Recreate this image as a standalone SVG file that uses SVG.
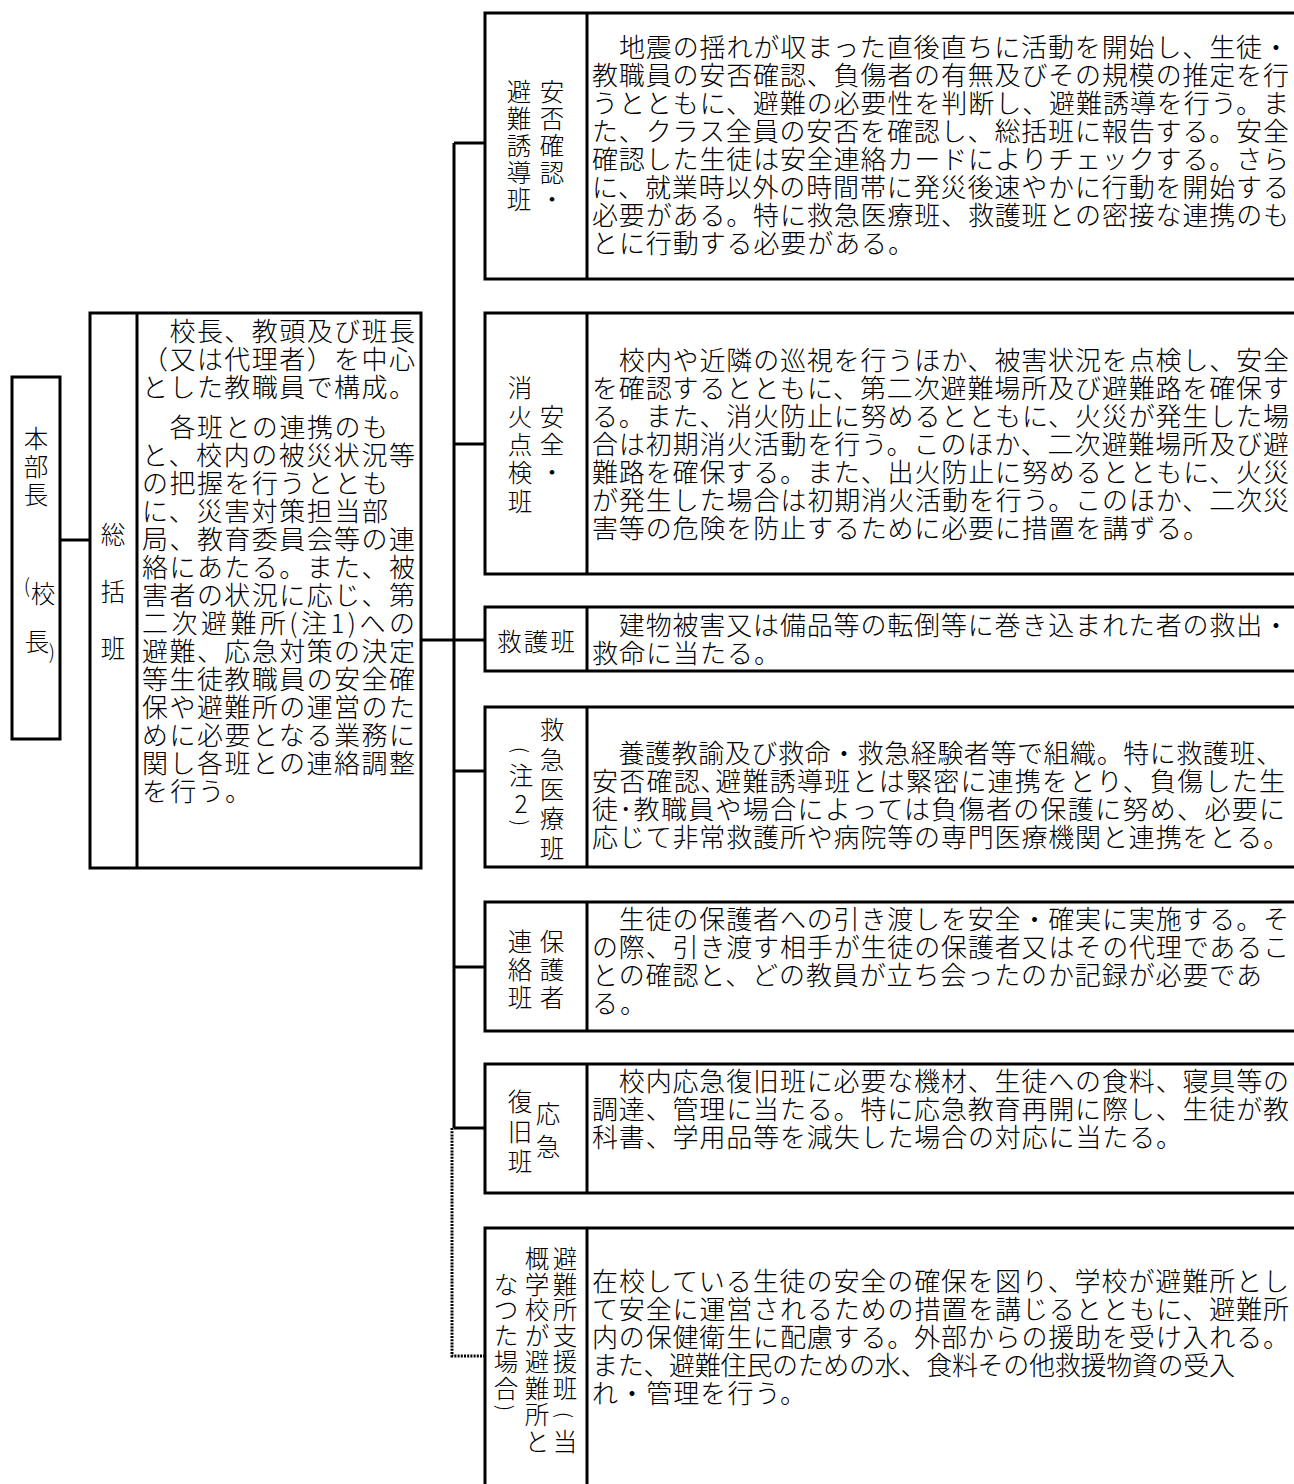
<svg xmlns="http://www.w3.org/2000/svg" width="1294" height="1484" viewBox="0 0 1294 1484">
<style>
.b{fill:#fff;stroke:#000;stroke-width:3}
.d{stroke:#000;stroke-width:3;fill:none}
.c{stroke:#000;stroke-width:3;fill:none}
.dot{stroke:#000;stroke-width:3;fill:none;stroke-dasharray:2 1.2}
text{font-family:"Noto Sans CJK JP","Noto Sans CJK SC",sans-serif;fill:#000;dominant-baseline:central;font-weight:300}
.t{font-size:26px}
.l{font-size:24.5px;text-anchor:middle}
.p{font-size:20px;text-anchor:middle}
</style>
<rect width="1294" height="1484" fill="#fff"/>
<g id="connectors">
<line class="c" x1="60" y1="540" x2="90" y2="540"/>
<line class="c" x1="421" y1="640" x2="454" y2="640"/>
<line class="c" x1="454" y1="143" x2="454" y2="1128"/>
<line class="c" x1="454" y1="143" x2="485" y2="143"/>
<line class="c" x1="454" y1="444" x2="485" y2="444"/>
<line class="c" x1="454" y1="640" x2="485" y2="640"/>
<line class="c" x1="454" y1="771" x2="485" y2="771"/>
<line class="c" x1="454" y1="967" x2="485" y2="967"/>
<line class="c" x1="454" y1="1128" x2="485" y2="1128"/>
<polyline class="dot" points="452,1128 452,1356 485,1356"/>
</g>
<g id="honbucho">
<rect class="b" x="12" y="377" width="48" height="362"/>
<text class="l" x="36" y="437">本</text>
<text class="l" x="36" y="465">部</text>
<text class="l" x="36" y="493">長</text>
<text class="p" x="27" y="584">(</text>
<text class="l" x="43" y="592">校</text>
<text class="l" x="37" y="640">長</text>
<text class="p" x="52" y="650">)</text>
</g>
<g id="sokatsu">
<rect class="b" x="90" y="313" width="331" height="555"/>
<line class="d" x1="137" y1="313" x2="137" y2="868"/>
<text class="l" x="113" y="533">総</text>
<text class="l" x="113" y="590">括</text>
<text class="l" x="113" y="647">班</text>
<g class="t">
<text x="142" y="329" textLength="273">　校長、教頭及び班長</text>
<text x="142" y="357" textLength="273">（又は代理者）を中心</text>
<text x="142" y="385" textLength="273">とした教職員で構成。</text>
<text x="142" y="425" textLength="246">　各班との連携のも</text>
<text x="142" y="453" textLength="273">と、校内の被災状況等</text>
<text x="142" y="481" textLength="246">の把握を行うととも</text>
<text x="142" y="509" textLength="246">に、災害対策担当部</text>
<text x="142" y="537" textLength="273">局、教育委員会等の連</text>
<text x="142" y="565" textLength="273">絡にあたる。また、被</text>
<text x="142" y="593" textLength="273">害者の状況に応じ、第</text>
<text x="142" y="621" textLength="273">二次避難所(注1)への</text>
<text x="142" y="649" textLength="273">避難、応急対策の決定</text>
<text x="142" y="677" textLength="273">等生徒教職員の安全確</text>
<text x="142" y="705" textLength="273">保や避難所の運営のた</text>
<text x="142" y="733" textLength="273">めに必要となる業務に</text>
<text x="142" y="761" textLength="273">関し各班との連絡調整</text>
<text x="142" y="789" textLength="109">を行う。</text>
</g>
</g>
<g id="anpi">
<rect class="b" x="485" y="13" width="820" height="266"/>
<line class="d" x1="587" y1="13" x2="587" y2="279"/>
<text class="l" x="552" y="90">安</text><text class="l" x="552" y="117">否</text><text class="l" x="552" y="144">確</text><text class="l" x="552" y="171">認</text><text class="l" x="552" y="198">・</text>
<text class="l" x="519" y="90">避</text><text class="l" x="519" y="117">難</text><text class="l" x="519" y="144">誘</text><text class="l" x="519" y="171">導</text><text class="l" x="519" y="198">班</text>
<g class="t">
<text x="592" y="45" textLength="697">　地震の揺れが収まった直後直ちに活動を開始し、生徒・</text>
<text x="592" y="73" textLength="697">教職員の安否確認、負傷者の有無及びその規模の推定を行</text>
<text x="592" y="101" textLength="697">うとともに、避難の必要性を判断し、避難誘導を行う。ま</text>
<text x="592" y="129" textLength="697">た、クラス全員の安否を確認し、総括班に報告する。安全</text>
<text x="592" y="157" textLength="697">確認した生徒は安全連絡カードによりチェックする。さら</text>
<text x="592" y="185" textLength="697">に、就業時以外の時間帯に発災後速やかに行動を開始する</text>
<text x="592" y="213" textLength="697">必要がある。特に救急医療班、救護班との密接な連携のも</text>
<text x="592" y="241" textLength="322">とに行動する必要がある。</text>
</g>
</g>
<g id="shoka">
<rect class="b" x="485" y="313" width="820" height="261"/>
<line class="d" x1="587" y1="313" x2="587" y2="574"/>
<text class="l" x="520" y="386">消</text><text class="l" x="520" y="415">火</text><text class="l" x="520" y="443">点</text><text class="l" x="520" y="471">検</text><text class="l" x="520" y="500">班</text>
<text class="l" x="552" y="415">安</text><text class="l" x="552" y="443">全</text><text class="l" x="552" y="471">・</text>
<g class="t">
<text x="592" y="358" textLength="697">　校内や近隣の巡視を行うほか、被害状況を点検し、安全</text>
<text x="592" y="386" textLength="697">を確認するとともに、第二次避難場所及び避難路を確保す</text>
<text x="592" y="414" textLength="697">る。また、消火防止に努めるとともに、火災が発生した場</text>
<text x="592" y="442" textLength="697">合は初期消火活動を行う。このほか、二次避難場所及び避</text>
<text x="592" y="470" textLength="697">難路を確保する。また、出火防止に努めるとともに、火災</text>
<text x="592" y="498" textLength="697">が発生した場合は初期消火活動を行う。このほか、二次災</text>
<text x="592" y="526" textLength="617">害等の危険を防止するために必要に措置を講ずる。</text>
</g>
</g>
<g id="kyugo">
<rect class="b" x="485" y="607" width="820" height="64"/>
<line class="d" x1="587" y1="607" x2="587" y2="671"/>
<text class="l" x="536" y="640" textLength="78">救護班</text>
<g class="t">
<text x="592" y="623" textLength="697">　建物被害又は備品等の転倒等に巻き込まれた者の救出・</text>
<text x="592" y="651" textLength="188">救命に当たる。</text>
</g>
</g>
<g id="kyukyu">
<rect class="b" x="485" y="707" width="820" height="160"/>
<line class="d" x1="587" y1="707" x2="587" y2="867"/>
<text class="l" x="552" y="728">救</text><text class="l" x="552" y="758">急</text><text class="l" x="552" y="788">医</text><text class="l" x="552" y="817">療</text><text class="l" x="552" y="847">班</text>
<text class="p" x="521" y="750" transform="rotate(90 521 750)">(</text>
<text class="l" x="521" y="774">注</text>
<text class="l" x="521" y="802">2</text>
<text class="p" x="521" y="823" transform="rotate(90 521 823)">)</text>
<g class="t">
<text x="592" y="751" textLength="690">　養護教諭及び救命・救急経験者等で組織。特に救護班、</text>
<text x="592" y="779" textLength="693">安否確認､避難誘導班とは緊密に連携をとり、負傷した生</text>
<text x="592" y="807" textLength="693">徒･教職員や場合によっては負傷者の保護に努め、必要に</text>
<text x="592" y="835" textLength="697">応じて非常救護所や病院等の専門医療機関と連携をとる。</text>
</g>
</g>
<g id="hogosha">
<rect class="b" x="485" y="902" width="820" height="129"/>
<line class="d" x1="587" y1="902" x2="587" y2="1031"/>
<text class="l" x="552" y="940">保</text><text class="l" x="552" y="968">護</text><text class="l" x="552" y="996">者</text>
<text class="l" x="520" y="940">連</text><text class="l" x="520" y="968">絡</text><text class="l" x="520" y="996">班</text>
<g class="t">
<text x="592" y="917" textLength="697">　生徒の保護者への引き渡しを安全・確実に実施する。そ</text>
<text x="592" y="945" textLength="697">の際、引き渡す相手が生徒の保護者又はその代理であるこ</text>
<text x="592" y="973" textLength="670">との確認と、どの教員が立ち会ったのか記録が必要であ</text>
<text x="592" y="1001" textLength="54">る。</text>
</g>
</g>
<g id="fukkyu">
<rect class="b" x="485" y="1064" width="820" height="129"/>
<line class="d" x1="587" y1="1064" x2="587" y2="1193"/>
<text class="l" x="520" y="1100">復</text><text class="l" x="520" y="1130">旧</text><text class="l" x="520" y="1160">班</text>
<text class="l" x="548" y="1112">応</text><text class="l" x="548" y="1145">急</text>
<g class="t">
<text x="592" y="1079" textLength="697">　校内応急復旧班に必要な機材、生徒への食料、寝具等の</text>
<text x="592" y="1107" textLength="697">調達、管理に当たる。特に応急教育再開に際し、生徒が教</text>
<text x="592" y="1135" textLength="590">科書、学用品等を減失した場合の対応に当たる。</text>
</g>
</g>
<g id="hinanjo">
<rect class="b" x="485" y="1228" width="820" height="270"/>
<line class="d" x1="587" y1="1228" x2="587" y2="1498"/>
<text class="l" x="565" y="1257">避</text><text class="l" x="565" y="1283">難</text><text class="l" x="565" y="1308">所</text><text class="l" x="565" y="1334">支</text><text class="l" x="565" y="1360">援</text><text class="l" x="565" y="1387">班</text>
<text class="p" x="565" y="1415" transform="rotate(90 565 1415)">(</text>
<text class="l" x="565" y="1440">当</text>
<text class="l" x="537" y="1257">概</text><text class="l" x="537" y="1283">学</text><text class="l" x="537" y="1308">校</text><text class="l" x="537" y="1334">が</text><text class="l" x="537" y="1360">避</text><text class="l" x="537" y="1387">難</text><text class="l" x="537" y="1413">所</text><text class="l" x="537" y="1440">と</text>
<text class="l" x="506" y="1283">な</text><text class="l" x="506" y="1308">つ</text><text class="l" x="506" y="1334">た</text><text class="l" x="506" y="1360">場</text><text class="l" x="506" y="1387">合</text>
<text class="p" x="506" y="1408" transform="rotate(90 506 1408)">)</text>
<g class="t">
<text x="592" y="1279" textLength="697">在校している生徒の安全の確保を図り、学校が避難所とし</text>
<text x="592" y="1307" textLength="697">て安全に運営されるための措置を講じるとともに、避難所</text>
<text x="592" y="1335" textLength="697">内の保健衛生に配慮する。外部からの援助を受け入れる。</text>
<text x="592" y="1363" textLength="643">また、避難住民のための水、食料その他救援物資の受入</text>
<text x="592" y="1391" textLength="214">れ・管理を行う。</text>
</g>
</g>
</svg>
